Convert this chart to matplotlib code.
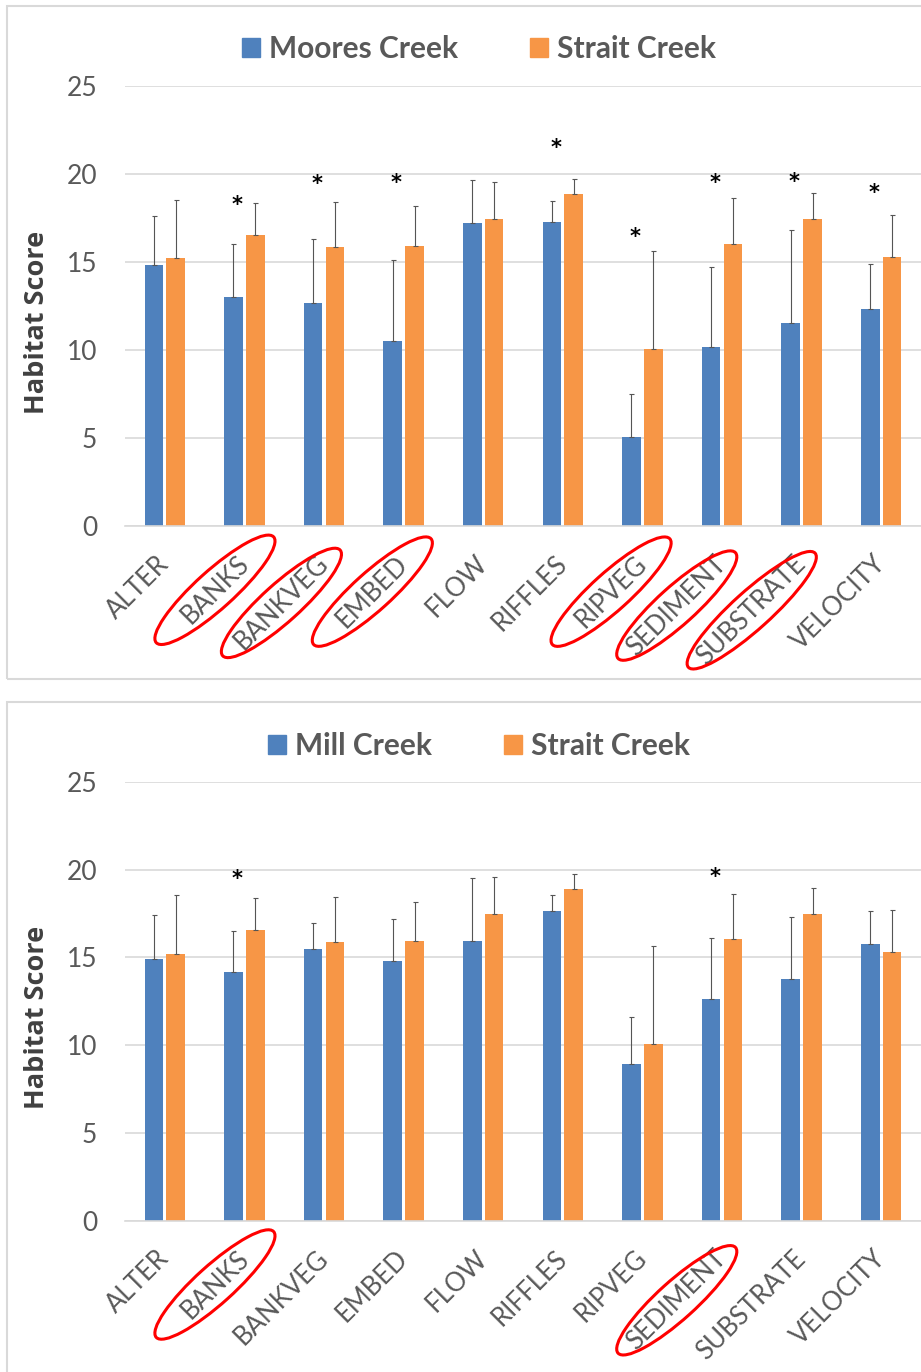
import matplotlib
matplotlib.use('Agg')
import matplotlib.pyplot as plt
import matplotlib.transforms as mtransforms
import numpy as np
from matplotlib.patches import Rectangle, Ellipse, Patch

categories = ['ALTER', 'BANKS', 'BANKVEG', 'EMBED', 'FLOW',
              'RIFFLES', 'RIPVEG', 'SEDIMENT', 'SUBSTRATE', 'VELOCITY']

# mean habitat score and standard deviation per metric
moores_mean = [14.85, 13.0, 12.65, 10.5, 17.2, 17.25, 5.05, 10.15, 11.55, 12.35]
moores_sd = [2.76, 3.05, 3.68, 4.6, 2.46, 1.22, 2.44, 4.55, 5.25, 2.56]

mill_mean = [14.9, 14.18, 15.48, 14.77, 15.93, 17.62, 8.91, 12.62, 13.78, 15.76]
mill_sd = [2.52, 2.33, 1.45, 2.39, 3.57, 0.94, 2.71, 3.5, 3.5, 1.86]

strait_mean = [15.2, 16.55, 15.88, 15.9, 17.44, 18.88, 10.05, 16.03, 17.46, 15.3]
strait_sd = [3.33, 1.82, 2.55, 2.26, 2.13, 0.85, 5.6, 2.59, 1.46, 2.38]

# metrics flagged as significantly different
moores_sig = ['BANKS', 'BANKVEG', 'EMBED', 'RIFFLES', 'RIPVEG',
              'SEDIMENT', 'SUBSTRATE', 'VELOCITY']
mill_sig = ['BANKS', 'SEDIMENT']

# metric names circled in red
moores_circled = ['BANKS', 'BANKVEG', 'EMBED', 'RIPVEG', 'SEDIMENT', 'SUBSTRATE']
mill_circled = ['BANKS', 'SEDIMENT']

BLUE = '#4F81BD'
ORANGE = '#F79646'
GRID = '#D9D9D9'
TEXT = '#595959'

W, H = 921, 1372
fig = plt.figure(figsize=(W / 100, H / 100), dpi=100)


def fx(x):
    return x / W


def fy(y):
    return 1 - y / H


def panel(frame_top, frame_bottom, ax_top, ax_bottom, site, site_mean, site_sd,
          sig, star_y, legend_y):
    fig.add_artist(Rectangle((fx(6.5), fy(frame_bottom)), fx(940), fy(frame_top) - fy(frame_bottom),
                             transform=fig.transFigure, fill=False, ec=GRID, lw=1.5))
    ax = fig.add_axes([fx(125), fy(ax_bottom), fx(796), fy(ax_top) - fy(ax_bottom)])
    x = np.arange(len(categories))
    off, bw = 0.137, 0.235
    ax.bar(x - off, site_mean, bw, color=BLUE, zorder=2)
    ax.bar(x + off, strait_mean, bw, color=ORANGE, zorder=2)
    for xs, m, s in [(x - off, site_mean, site_sd), (x + off, strait_mean, strait_sd)]:
        ax.errorbar(xs, m, yerr=[np.zeros(len(m)), s], fmt='none', ecolor='#555555',
                    elinewidth=0.8, capsize=1.8, capthick=0.8, zorder=3)
    for name in sig:
        i = categories.index(name)
        ax.text(i - 0.09, star_y[name], '*', ha='center', va='center',
                fontsize=15, fontweight='bold', color='black', family='DejaVu Sans')

    ax.set_xlim(-0.5, len(categories) - 0.5)
    ax.set_ylim(0, 25)
    ax.set_yticks([0, 5, 10, 15, 20, 25])
    ax.grid(axis='y', color=GRID, lw=1.2, zorder=0)
    for sp in ['top', 'right', 'left']:
        ax.spines[sp].set_visible(False)
    ax.spines['bottom'].set_color(GRID)
    ax.spines['bottom'].set_linewidth(1.2)
    ax.tick_params(length=0, colors=TEXT)
    ax.tick_params(axis='y', labelsize=19, pad=20)
    ax.set_xticks(x)
    ax.set_xticklabels(categories, rotation=45, ha='right', rotation_mode='anchor',
                       fontsize=18.5, color=TEXT)
    ax.tick_params(axis='x', pad=18)
    shift = mtransforms.ScaledTranslation(-6 / 72, 0, fig.dpi_scale_trans)
    for t in ax.get_yticklabels():
        t.set_family('Lato')
    for t in ax.get_xticklabels():
        t.set_family('Lato')
        t.set_transform(t.get_transform() + shift)
    ax.set_ylabel('Habitat Score', fontsize=19.5, fontweight='bold', color='#404040',
                  family='Open Sans')
    ax.yaxis.set_label_coords(-0.094, 0.462)

    handles = [Patch(color=BLUE, label=site), Patch(color=ORANGE, label='Strait Creek')]
    fig.legend(handles=handles, loc='center', bbox_to_anchor=(fx(479), fy(legend_y)),
               ncol=2, frameon=False, handlelength=0.62, handleheight=0.62,
               handletextpad=0.3, columnspacing=2.4,
               prop={'family': 'Lato', 'weight': 'bold', 'size': 21.5}, labelcolor=TEXT)
    return ax


top = panel(5.5, 678.5, 86, 526, 'Moores Creek', moores_mean, moores_sd, moores_sig,
            {'BANKS': 18.24, 'BANKVEG': 19.43, 'EMBED': 19.5, 'RIFFLES': 21.46,
             'RIPVEG': 16.4, 'SEDIMENT': 19.47, 'SUBSTRATE': 19.55, 'VELOCITY': 18.9},
            49)
bottom = panel(702, 1400, 781.7, 1220.7, 'Mill Creek', mill_mean, mill_sd, mill_sig,
               {'BANKS': 19.46, 'SEDIMENT': 19.56}, 746)

# red ellipses around the circled metric names
fig.canvas.draw()
for ax, circled in [(top, moores_circled), (bottom, mill_circled)]:
    for lab in ax.get_xticklabels():
        if lab.get_text() not in circled:
            continue
        bb = lab.get_window_extent()
        cx, cy = (bb.x0 + bb.x1) / 2, (bb.y0 + bb.y1) / 2
        length = max(158, bb.width / 0.707 - 25 + 28)
        fig.add_artist(Ellipse((cx / 100, cy / 100), length / 100, 0.38, angle=42,
                               transform=fig.dpi_scale_trans, fill=False,
                               ec='#FF0000', lw=2.2))

fig.savefig('out.png', dpi=100)
